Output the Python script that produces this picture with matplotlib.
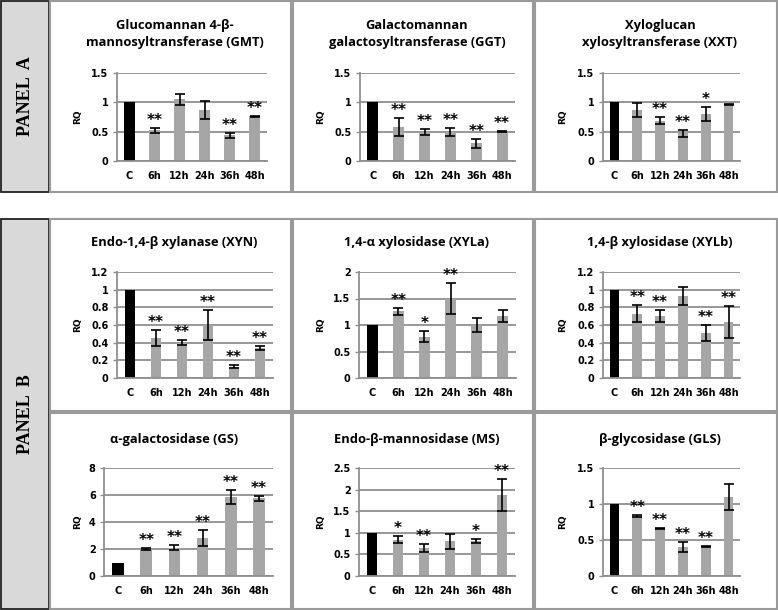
import matplotlib.pyplot as plt
from matplotlib.patches import Rectangle
from matplotlib.ticker import FormatStrFormatter, MultipleLocator
import numpy as np

W, H = 778, 610

categories = ['C', '6h', '12h', '24h', '36h', '48h']

# Panel A
gmt = [1, 0.52, 1.05, 0.87, 0.44, 0.76]
gmt_err = [0, 0.05, 0.1, 0.15, 0.04, 0.01]
gmt_sig = ['', '**', '', '', '**', '**']

ggt = [1, 0.58, 0.49, 0.5, 0.3, 0.5]
ggt_err = [0, 0.16, 0.05, 0.07, 0.07, 0.01]
ggt_sig = ['', '**', '**', '**', '**', '**']

xxt = [1, 0.87, 0.69, 0.47, 0.8, 0.97]
xxt_err = [0, 0.12, 0.06, 0.06, 0.12, 0.01]
xxt_sig = ['', '', '**', '**', '*', '']

# Panel B
xyn = [1, 0.45, 0.4, 0.6, 0.13, 0.34]
xyn_err = [0, 0.09, 0.03, 0.17, 0.02, 0.02]
xyn_sig = ['', '**', '**', '**', '**', '**']

xyla = [1, 1.26, 0.78, 1.5, 1.0, 1.17]
xyla_err = [0, 0.07, 0.1, 0.3, 0.14, 0.11]
xyla_sig = ['', '**', '*', '**', '', '']

xylb = [1, 0.73, 0.7, 0.93, 0.51, 0.63]
xylb_err = [0, 0.1, 0.065, 0.1, 0.095, 0.18]
xylb_sig = ['', '**', '**', '', '**', '**']

gs = [1, 2.0, 2.1, 2.8, 5.85, 5.75]
gs_err = [0, 0.1, 0.2, 0.6, 0.5, 0.2]
gs_sig = ['', '**', '**', '**', '**', '**']

ms = [1, 0.84, 0.65, 0.8, 0.81, 1.87]
ms_err = [0, 0.08, 0.1, 0.18, 0.05, 0.37]
ms_sig = ['', '*', '**', '', '*', '**']

gls = [1, 0.83, 0.66, 0.4, 0.41, 1.1]
gls_err = [0, 0.015, 0.01, 0.07, 0.01, 0.18]
gls_sig = ['', '**', '**', '**', '**', '']

charts = [
    ('Glucomannan 4-β-\nmannosyltransferase (GMT)', gmt, gmt_err, gmt_sig, 1.5, 0.5),
    ('Galactomannan\ngalactosyltransferase (GGT)', ggt, ggt_err, ggt_sig, 1.5, 0.5),
    ('Xyloglucan\nxylosyltransferase (XXT)', xxt, xxt_err, xxt_sig, 1.5, 0.5),
    ('Endo-1,4-β xylanase (XYN)', xyn, xyn_err, xyn_sig, 1.2, 0.2),
    ('1,4-α xylosidase (XYLa)', xyla, xyla_err, xyla_sig, 2, 0.5),
    ('1,4-β xylosidase (XYLb)', xylb, xylb_err, xylb_sig, 1.2, 0.2),
    ('α-galactosidase (GS)', gs, gs_err, gs_sig, 8, 2),
    ('Endo-β-mannosidase (MS)', ms, ms_err, ms_sig, 2.5, 0.5),
    ('β-glycosidase (GLS)', gls, gls_err, gls_sig, 1.5, 0.5),
]

# layout in pixels: cell boxes and plot areas (left, top, right, bottom)
cells = [(49, 0, 292, 193), (292, 0, 534, 193), (534, 0, 778, 193),
         (49, 218, 292, 412), (292, 218, 534, 412), (534, 218, 778, 412),
         (49, 412, 292, 610), (292, 412, 534, 610), (534, 412, 778, 610)]
plot_areas = [(117, 73, 267, 161), (360, 73, 515, 161), (603, 73, 740, 161),
              (117, 272, 273, 378), (359, 272, 516, 378), (603, 272, 740, 378),
              (104, 468, 273, 576), (359, 468, 515, 576), (603, 468, 740, 576)]
title_y = [34, 34, 34, 243, 243, 243, 440, 440, 440]

grid_col = '#8f8f8f'
border_col = '#9a9a9a'

fig = plt.figure(figsize=(W / 100, H / 100), dpi=100)
fig.patch.set_facecolor('white')


def fx(x):
    return x / W


def fy(y):
    return 1 - y / H


def box(l, t, r, b, **kw):
    fig.add_artist(Rectangle((fx(l), fy(b)), (r - l) / W, (b - t) / H,
                             transform=fig.transFigure, **kw))


# panel label boxes
for (t, b, name) in [(1, 192, 'PANEL  A'), (219, 609, 'PANEL  B')]:
    box(1, t, 49, b, facecolor='#d9d9d9', edgecolor='#222222', lw=1.3, zorder=5)
    fig.text(fx(25), fy((t + b) / 2), name, rotation=90, ha='center', va='center',
             family='Liberation Serif', fontweight='bold', fontsize=13, zorder=6)

# cell borders
for (l, t, r, b) in cells:
    box(l + 1, t + 1, r - 1, b - 1, facecolor='none', edgecolor=border_col, lw=1.5, zorder=5)

x = np.arange(len(categories))
colors = ['black'] + ['#a6a6a6'] * 5

for i, (title, vals, errs, sig, ymax, step) in enumerate(charts):
    l, t, r, b = plot_areas[i]
    cl, ct, cr, cb = cells[i]
    ax = fig.add_axes([fx(l), fy(b), (r - l) / W, (b - t) / H])
    ax.bar(x, vals, width=0.42, color=colors, zorder=2)
    yerr = np.array(errs, dtype=float)
    ax.errorbar(x[1:], vals[1:], yerr=yerr[1:], fmt='none', ecolor='black',
                elinewidth=1.2, capsize=3.5, capthick=1.2, zorder=3)
    for xi, v, e, s in zip(x, vals, errs, sig):
        if s:
            ax.annotate(s, (xi, v + e), xytext=(0, 0), textcoords='offset points',
                        ha='center', va='bottom', fontsize=11, fontweight='bold',
                        family='DejaVu Sans', zorder=4)
    ax.set_xlim(-0.5, 5.5)
    ax.set_ylim(0, ymax)
    ax.yaxis.set_major_locator(MultipleLocator(step))
    ax.yaxis.set_major_formatter(FormatStrFormatter('%g'))
    ax.grid(axis='y', color=grid_col, lw=1.3, zorder=0)
    ax.set_axisbelow(True)
    for sp in ['top', 'right']:
        ax.spines[sp].set_visible(False)
    for sp in ['left', 'bottom']:
        ax.spines[sp].set_color(grid_col)
        ax.spines[sp].set_linewidth(1.3)
    ax.set_xticks(x)
    ax.set_xticklabels(categories)
    ax.tick_params(axis='x', length=0, pad=7, labelsize=7)
    ax.tick_params(axis='y', length=3, width=1, color=grid_col, pad=3, labelsize=7)
    for lab in ax.get_xticklabels() + ax.get_yticklabels():
        lab.set_fontweight('bold')
        lab.set_family('DejaVu Sans')
    ax.patch.set_alpha(0)
    fig.text(fx(cl + 29), fy((t + b) / 2), 'RQ', rotation=90, ha='center', va='center',
             fontsize=6.5, fontweight='bold', family='DejaVu Sans')
    fig.text(fx((cl + cr) / 2 + 4), fy(title_y[i]), title, ha='center', va='center',
             fontsize=9.3, fontweight='bold', family='Open Sans', linespacing=1.35)

fig.savefig('out.png', dpi=100)
